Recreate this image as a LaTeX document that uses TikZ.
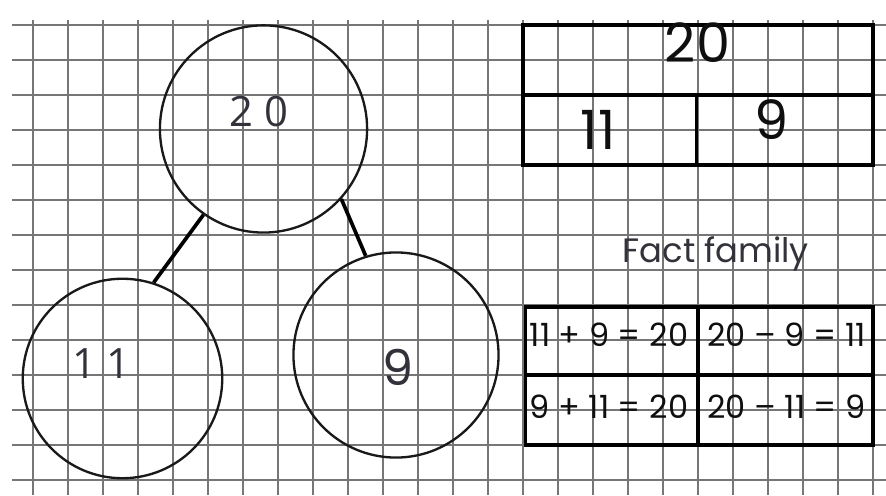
\documentclass[tikz,border=0pt]{standalone}
\usepackage{fontspec}
\setmainfont{Poppins}
\newfontfamily\roundfont{Open Sans}
\usetikzlibrary{calc}
\definecolor{gridgrey}{RGB}{118,118,118}
\definecolor{ink}{RGB}{15,15,15}
\definecolor{pencil}{RGB}{50,50,58}
\tikzset{
  paper/.style={draw=gridgrey,line width=1.4pt},
  bond/.style={circle,draw=black!90,line width=1.9pt,minimum size=#1,inner sep=0pt},
  bond/.default=58mm,
  link/.style={draw=black,line width=3pt},
  cell/.style={draw=black,line width=2.6pt,inner sep=0pt,minimum width=#1},
  cell/.default=50mm,
  digits/.style={font=\roundfont\fontsize{34}{34}\selectfont,text=pencil,anchor=base},
  bartext/.style={font=\fontsize{44}{44}\selectfont,text=ink,anchor=base},
  facttext/.style={font=\fontsize{26}{26}\selectfont,text=ink,anchor=base},
}

\begin{document}
\begin{tikzpicture}
  \fill[white] (-0.943,-0.429) rectangle (24.371,13.714);
  \useasboundingbox (-0.943,-0.429) rectangle (24.371,13.714);
  \draw[paper] (-0.6,-0.429) grid (24.371,13.143);
  % part-whole model
  \node[bond=59.2mm] (whole) at (6.586,10.029) {};
  \node[bond=57mm] (partA) at (2.557,2.9) {};
  \node[bond=58.6mm] (partB) at (10.371,3.571) {};
  \draw[link] (whole.235) -- (partA.72);
  \draw[link] (whole.318) -- (partB.107);
  \node[digits] (wholeval) at (6.457,10.086) {2 0};
  \node[digits] (aval) at (1.957,2.886) {1 1};
  \node[digits,font=\fontsize{40}{40}\selectfont] (bval) at (10.43,2.7) {9};
  % bar model
  \node[cell=100mm,minimum height=20mm] (barwhole) at (19,12) {};
  \node[cell=49.5mm,minimum height=20mm] (barA) at (16.475,10) {};
  \node[cell=50.5mm,minimum height=20mm] (barB) at (21.475,10) {};
  \node[bartext] (barwholeval) at (18.986,11.914) {20};
  \node[bartext] (baraval) at (16.143,9.43) {11};
  \node[bartext] (barbval) at (21.114,9.714) {9};
  % fact family
  \node[font=\fontsize{27.5}{27.5}\selectfont,text=pencil,anchor=base] (title) at (19.51,6.2) {Fact family};
  \node[cell=49.4mm,minimum height=19.4mm] (f1) at (16.53,3.97) {};
  \node[cell=50mm,minimum height=19.4mm] (f2) at (21.5,3.97) {};
  \node[cell=49.4mm,minimum height=20mm] (f3) at (16.53,2) {};
  \node[cell=50mm,minimum height=20mm] (f4) at (21.5,2) {};
  \node[facttext] (f1text) at (16.457,3.8) {11 + 9 = 20};
  \node[facttext] (f2text) at (21.53,3.8) {20 – 9 = 11};
  \node[facttext] (f3text) at (16.457,1.771) {9 + 11 = 20};
  \node[facttext] (f4text) at (21.53,1.771) {20 – 11 = 9};
\end{tikzpicture}
\end{document}
